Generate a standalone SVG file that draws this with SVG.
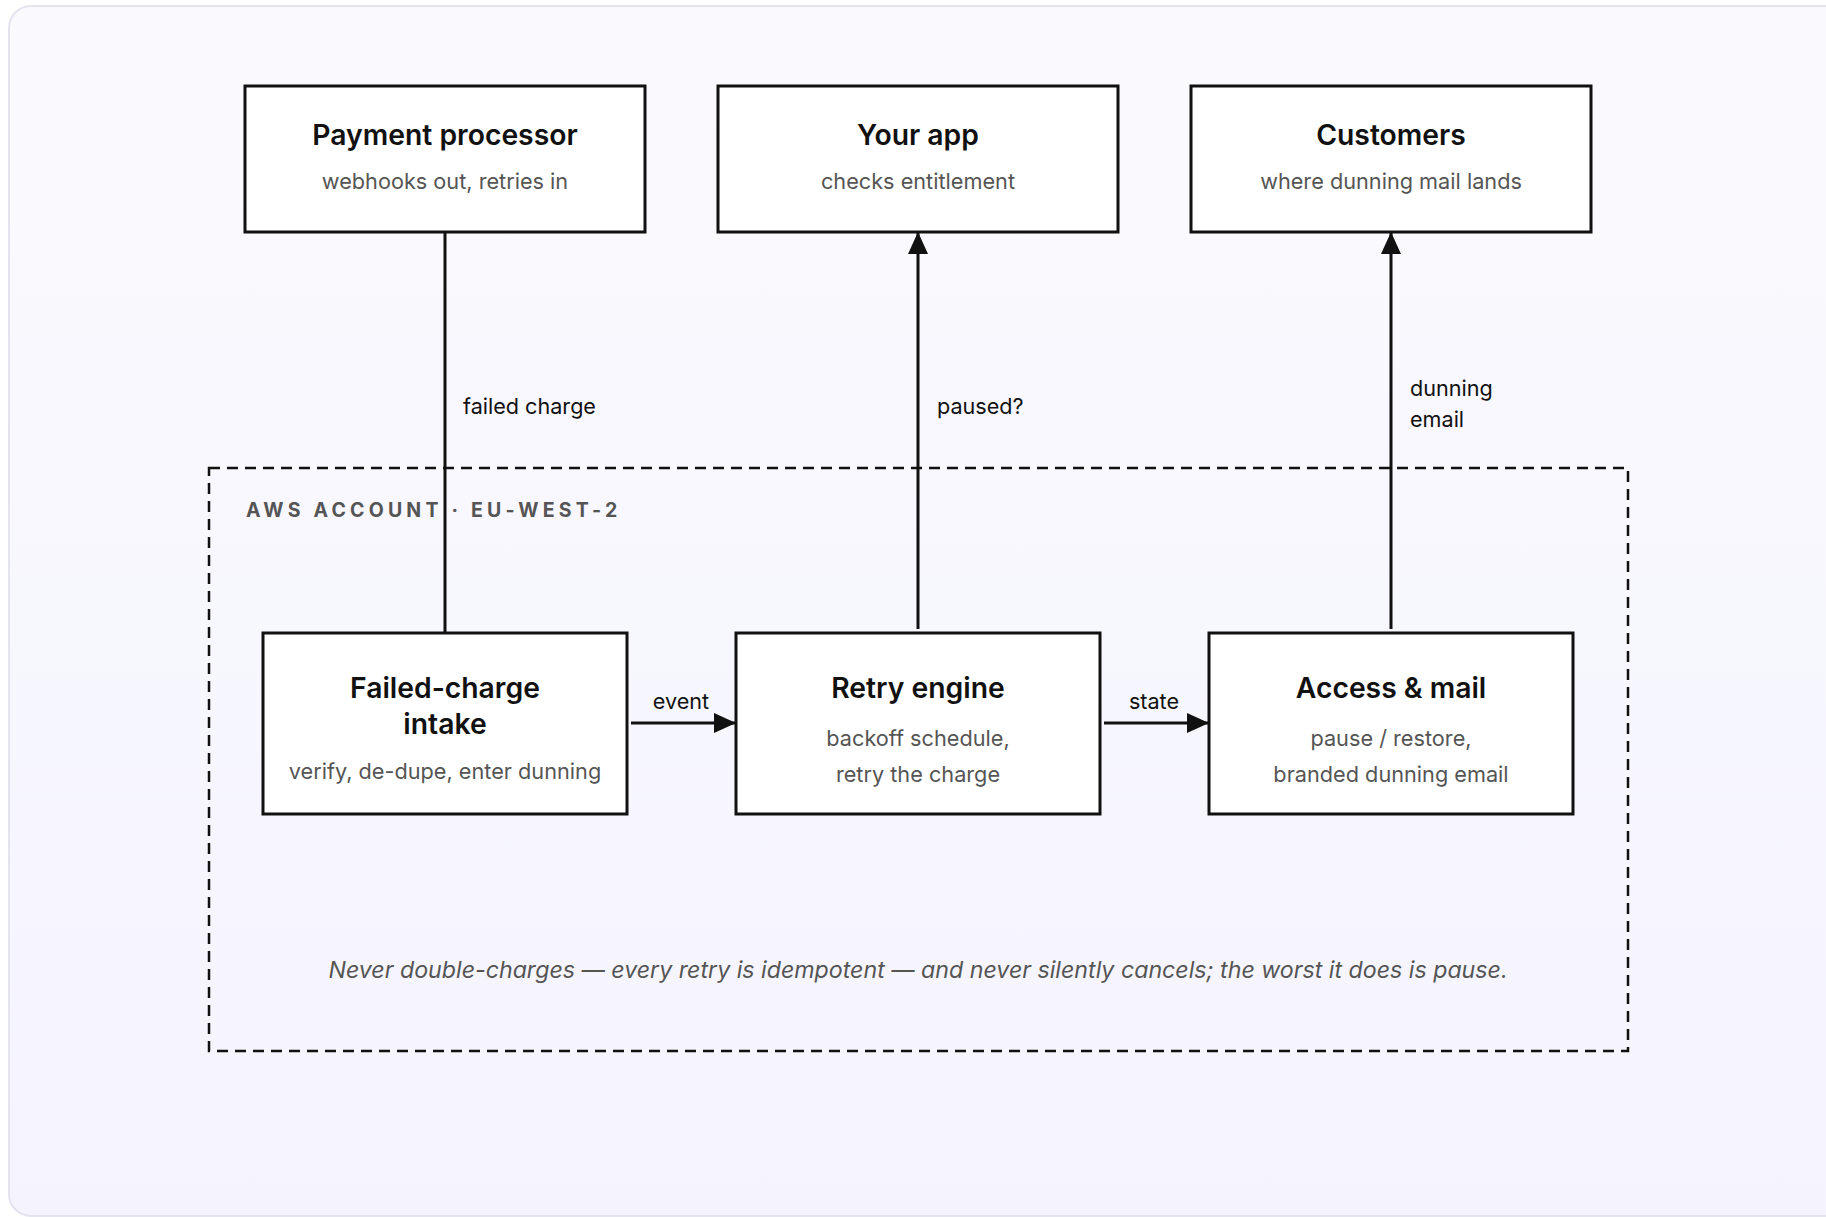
<svg xmlns="http://www.w3.org/2000/svg" width="1826" height="1217" viewBox="0 0 1826 1217">
  <defs>
    <linearGradient id="cardFill" x1="0" y1="0" x2="0" y2="1">
      <stop offset="0" stop-color="#fafafe"/>
      <stop offset="1" stop-color="#f5f4fe"/>
    </linearGradient>
    <marker id="arrow" markerWidth="22" markerHeight="20" refX="21" refY="10" orient="auto" markerUnits="userSpaceOnUse">
      <path d="M0,0 L22,10 L0,20 Z" fill="#111"/>
    </marker>
    <style>
      .box { fill: #ffffff; stroke: #111111; stroke-width: 3; }
      .title { font-family: Inter, "Liberation Sans", sans-serif; font-size: 28.3px; font-weight: 600; fill: #111111; text-anchor: middle; }
      .sub { font-family: Inter, "Liberation Sans", sans-serif; font-size: 21.7px; fill: #555555; text-anchor: middle; }
      .edge { stroke: #111111; stroke-width: 3; fill: none; }
      .elabel { font-family: Inter, "Liberation Sans", sans-serif; font-size: 21.6px; fill: #111111; }
      .zone { fill: none; stroke: #111111; stroke-width: 2.5; stroke-dasharray: 11 7; }
      .zlabel { font-family: Inter, "Liberation Sans", sans-serif; font-size: 19.5px; font-weight: 700; letter-spacing: 4.2px; fill: #555555; }
      .note { font-family: Inter, "Liberation Sans", sans-serif; font-size: 23.2px; font-style: italic; fill: #555555; text-anchor: middle; }
    </style>
  </defs>

  <rect x="0" y="0" width="1826" height="1217" fill="#ffffff"/>
  <rect id="card" x="9" y="6" width="1840" height="1210" rx="22" fill="url(#cardFill)" stroke="#e4e4ef" stroke-width="2"/>

  <!-- account boundary -->
  <g id="aws-account">
    <rect class="zone" x="209" y="468" width="1419" height="583"/>
    <text class="zlabel" x="246" y="517">AWS ACCOUNT · EU-WEST-2</text>
    <text class="note" x="918" y="978">Never double-charges — every retry is idempotent — and never silently cancels; the worst it does is pause.</text>
  </g>

  <!-- connectors -->
  <g id="connectors">
    <line class="edge" x1="445" y1="232" x2="445" y2="632"/>
    <text class="elabel" x="463" y="414">failed charge</text>

    <line class="edge" x1="918" y1="629" x2="918" y2="233" marker-end="url(#arrow)"/>
    <text class="elabel" x="937" y="414">paused?</text>

    <line class="edge" x1="1391" y1="629" x2="1391" y2="233" marker-end="url(#arrow)"/>
    <text class="elabel" x="1410" y="396">dunning</text>
    <text class="elabel" x="1410" y="427">email</text>

    <line class="edge" x1="631" y1="723" x2="735" y2="723" marker-end="url(#arrow)"/>
    <text class="elabel" x="681" y="709" text-anchor="middle">event</text>

    <line class="edge" x1="1104" y1="723" x2="1208" y2="723" marker-end="url(#arrow)"/>
    <text class="elabel" x="1154" y="709" text-anchor="middle">state</text>
  </g>

  <!-- external systems -->
  <g id="payment-processor">
    <rect class="box" x="245" y="86" width="400" height="146"/>
    <text class="title" x="445" y="145">Payment processor</text>
    <text class="sub" x="445" y="189">webhooks out, retries in</text>
  </g>
  <g id="your-app">
    <rect class="box" x="718" y="86" width="400" height="146"/>
    <text class="title" x="918" y="145">Your app</text>
    <text class="sub" x="918" y="189">checks entitlement</text>
  </g>
  <g id="customers">
    <rect class="box" x="1191" y="86" width="400" height="146"/>
    <text class="title" x="1391" y="145">Customers</text>
    <text class="sub" x="1391" y="189">where dunning mail lands</text>
  </g>

  <!-- services inside the account -->
  <g id="failed-charge-intake">
    <rect class="box" x="263" y="633" width="364" height="181"/>
    <text class="title" x="445" y="698">Failed-charge</text>
    <text class="title" x="445" y="734">intake</text>
    <text class="sub" x="445" y="779">verify, de-dupe, enter dunning</text>
  </g>
  <g id="retry-engine">
    <rect class="box" x="736" y="633" width="364" height="181"/>
    <text class="title" x="918" y="698">Retry engine</text>
    <text class="sub" x="918" y="746">backoff schedule,</text>
    <text class="sub" x="918" y="782">retry the charge</text>
  </g>
  <g id="access-mail">
    <rect class="box" x="1209" y="633" width="364" height="181"/>
    <text class="title" x="1391" y="698">Access &amp; mail</text>
    <text class="sub" x="1391" y="746">pause / restore,</text>
    <text class="sub" x="1391" y="782">branded dunning email</text>
  </g>
</svg>
